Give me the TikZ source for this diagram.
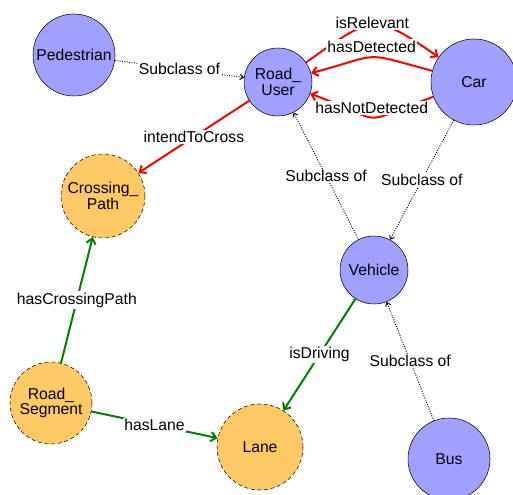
\documentclass[tikz,border=0pt]{standalone}
\usepackage{fontspec}
\setmainfont{Liberation Sans}
\usetikzlibrary{arrows.meta}
\definecolor{clsblue}{RGB}{160,160,255}
\definecolor{indorange}{RGB}{255,201,102}
\definecolor{relgreen}{RGB}{0,128,0}
\begin{document}
\begin{tikzpicture}[x=0.75pt,y=-0.75pt,
  font=\fontsize{11.8}{11.5}\selectfont,
  cls/.style={circle,draw,fill=clsblue,inner sep=0pt,align=center},
  ind/.style={circle,draw,densely dashed,fill=indorange,inner sep=0pt,align=center},
  lbl/.style={fill=white,text=black,inner sep=1pt},
  sub/.style={line width=0.7pt,dash pattern=on 0.7pt off 1.1pt,-{Straight Barb[length=2.5pt,width=4pt]}},
  objrel/.style={red,line width=1.5pt,-{Straight Barb[length=4pt,width=7pt]}},
  datrel/.style={relgreen,line width=1.5pt,-{Straight Barb[length=4pt,width=7pt]}}]
\useasboundingbox (0,0) rectangle (513,495);
\node[cls,minimum size=61.5pt](ped) at (74,55){Pedestrian};
\node[cls,minimum size=51pt](ru) at (278,82){Road\_\\User};
\node[cls,minimum size=64.5pt](car) at (474,82){Car};
\node[ind,minimum size=63pt](cp) at (103,196){Crossing\_\\Path};
\node[cls,minimum size=51pt](veh) at (374,270){Vehicle};
\node[ind,minimum size=61.5pt](rs) at (51,403){Road\_\\Segment};
\node[ind,minimum size=64.5pt](lane) at (260,447){Lane};
\node[cls,minimum size=61.5pt](bus) at (449,459){Bus};
\draw[sub](ped)--node[lbl]{Subclass of}(ru);
\draw[sub](veh)--node[lbl]{Subclass of}(ru);
\draw[sub](car)--node[lbl]{Subclass of}(veh);
\draw[sub](bus)--node[lbl]{Subclass of}(veh);
\draw[objrel](ru)--node[lbl]{intendToCross}(cp);
\draw[objrel](ru) to[out=35,in=145,looseness=1.55] node[lbl,yshift=2pt]{isRelevant}(car);
\draw[objrel](car) to[out=165,in=15,looseness=1.6] node[lbl,yshift=8pt]{hasDetected}(ru);
\draw[objrel](car) to[out=200,in=340,looseness=1.8] node[lbl,yshift=7pt]{hasNotDetected}(ru);
\draw[datrel](rs)--node[lbl]{hasCrossingPath}(cp);
\draw[datrel](rs)--node[lbl]{hasLane}(lane);
\draw[datrel](veh)--node[lbl]{isDriving}(lane);
\end{tikzpicture}
\end{document}
